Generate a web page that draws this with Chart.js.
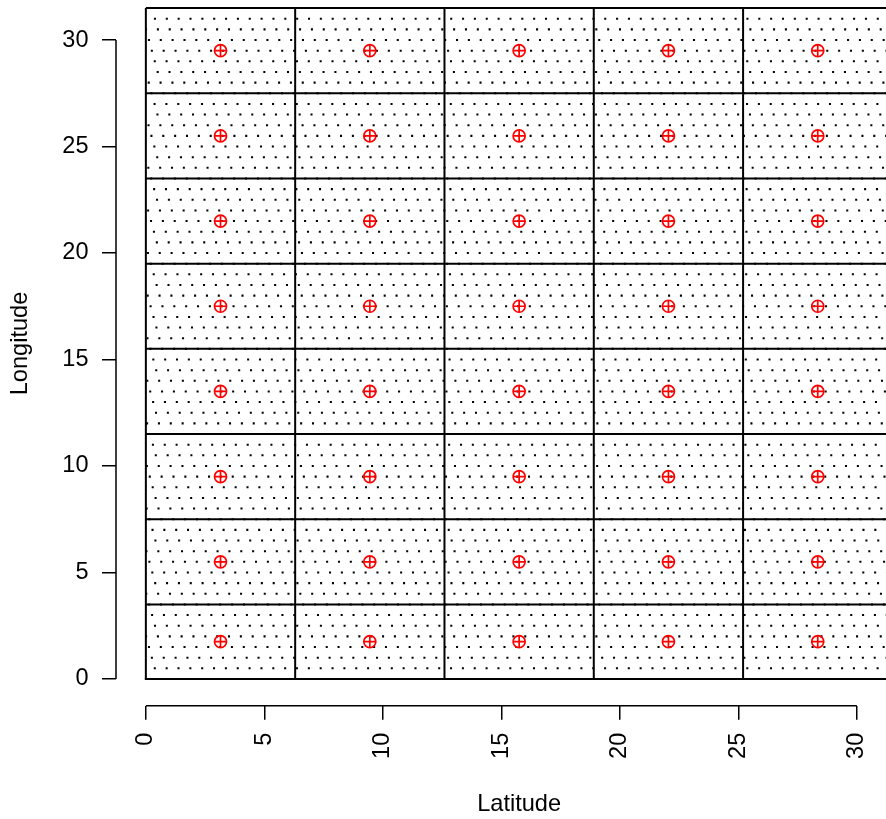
<!DOCTYPE html>
<html><head><meta charset="utf-8">
<script src="https://cdn.jsdelivr.net/npm/chart.js@4/dist/chart.umd.min.js"></script>
<style>html,body{margin:0;padding:0;background:#fff}</style>
</head><body>
<canvas id="c" width="886" height="819"></canvas>
<script>
// ---- data ----
const xTicks = [0, 5, 10, 15, 20, 25, 30];
const yTicks = [0, 5, 10, 15, 20, 25, 30];
const cellXBounds = [0, 6.3, 12.6, 18.9, 25.2, 31.5];
const cellYBounds = [0, 3.5, 7.5, 11.5, 15.5, 19.5, 23.5, 27.5, 31.5];
const centerX = [3.15, 9.45, 15.75, 22.05, 28.35];
const centerY = [1.75, 5.5, 9.5, 13.5, 17.5, 21.5, 25.5, 29.5];
// regular sampling lattice of the black dots (row spacing, column spacing, per-row shift)
const dotRowStep = 0.5;
const dotColStep = 0.5;
const dotRowShift = 0.12284;
const dotYMax = 31.5;
const dotXMax = 31.5;
const xTitle = 'Latitude';
const yTitle = 'Longitude';
const rLimX = [-1.26, 32.76];
const rLimY = [-1.26, 32.76];

// ---- build datasets from the arrays ----
const dots = [];
const nRows = Math.round(dotYMax / dotRowStep);
for (let n = 0; n <= nRows; n++) {
  const y = n * dotRowStep;
  let off = (-n * dotRowShift) % dotColStep;
  if (off < 0) off += dotColStep;
  for (let x = off; x <= dotXMax + 1e-9; x += dotColStep) dots.push({x: x, y: y});
}
const centers = [];
centerY.forEach(cy => centerX.forEach(cx => centers.push({x: cx, y: cy})));

const lineSets = [];
cellYBounds.forEach(yv => lineSets.push({
  type: 'line', data: [{x: cellXBounds[0], y: yv}, {x: cellXBounds[cellXBounds.length - 1], y: yv}],
  borderColor: '#000', borderWidth: 2, pointRadius: 0, tension: 0, fill: false
}));
cellXBounds.forEach(xv => lineSets.push({
  type: 'line', data: [{x: xv, y: cellYBounds[0]}, {x: xv, y: cellYBounds[cellYBounds.length - 1]}],
  borderColor: '#000', borderWidth: 2, pointRadius: 0, tension: 0, fill: false
}));

const FONT = '"Liberation Sans", Arial, sans-serif';

const rAxes = {
  id: 'rAxes',
  afterDraw(chart) {
    const {ctx, chartArea: a, scales: {x, y}} = chart;
    ctx.save();
    ctx.strokeStyle = '#000';
    ctx.lineWidth = 1.5;
    ctx.beginPath();
    ctx.moveTo(x.getPixelForValue(xTicks[0]), a.bottom);
    ctx.lineTo(x.getPixelForValue(xTicks[xTicks.length - 1]), a.bottom);
    ctx.moveTo(a.left, y.getPixelForValue(yTicks[0]));
    ctx.lineTo(a.left, y.getPixelForValue(yTicks[yTicks.length - 1]));
    ctx.stroke();
    ctx.fillStyle = '#000';
    ctx.font = '23.6px ' + FONT;
    ctx.textAlign = 'center';
    ctx.textBaseline = 'alphabetic';
    ctx.fillText(xTitle, x.getPixelForValue((rLimX[0] + rLimX[1]) / 2), a.bottom + 105.5);
    ctx.translate(a.left - 89.3, y.getPixelForValue((rLimY[0] + rLimY[1]) / 2));
    ctx.rotate(-Math.PI / 2);
    ctx.fillText(yTitle, 0, 0);
    ctx.restore();
  }
};

new Chart(document.getElementById('c'), {
  type: 'scatter',
  data: {
    datasets: [
      {data: centers, pointStyle: 'cross', pointRadius: 6, borderColor: '#ff0000', borderWidth: 1.7, backgroundColor: 'rgba(0,0,0,0)'},
      {data: centers, pointStyle: 'circle', pointRadius: 6, borderColor: '#ff0000', borderWidth: 1.7, backgroundColor: 'rgba(0,0,0,0)'},
      {data: dots, pointStyle: 'rect', pointRadius: 1.45, borderWidth: 0, backgroundColor: '#000'},
      ...lineSets
    ]
  },
  options: {
    responsive: false,
    animation: false,
    devicePixelRatio: 1,
    layout: {padding: 0, autoPadding: false},
    plugins: {legend: {display: false}, tooltip: {enabled: false}},
    elements: {point: {hoverRadius: 0}},
    scales: {
      x: {
        type: 'linear', position: 'bottom', min: -1.26, max: 31.23,
        grid: {display: true, drawOnChartArea: false, drawTicks: true, tickLength: 14, color: '#000', lineWidth: 1.5},
        border: {display: false},
        ticks: {color: '#000', font: {family: FONT, size: 23.5}, padding: 13, minRotation: 90, maxRotation: 90, autoSkip: false},
        afterBuildTicks: s => { s.ticks = xTicks.map(v => ({value: v})); },
        afterFit: s => { s.height = 113.2; s.paddingLeft = 0; s.paddingRight = 0; s.paddingTop = 0; s.paddingBottom = 0; }
      },
      y: {
        type: 'linear', position: 'left', min: -1.26, max: 31.88,
        grid: {display: true, drawOnChartArea: false, drawTicks: true, tickLength: 14, color: '#000', lineWidth: 1.5},
        border: {display: false},
        ticks: {color: '#000', font: {family: FONT, size: 23.5}, padding: 13.5, autoSkip: false},
        afterBuildTicks: s => { s.ticks = yTicks.map(v => ({value: v})); },
        afterFit: s => { s.width = 116; s.paddingLeft = 0; s.paddingRight = 0; s.paddingTop = 0; s.paddingBottom = 0; }
      }
    }
  },
  plugins: [rAxes]
});
</script>
</body></html>
